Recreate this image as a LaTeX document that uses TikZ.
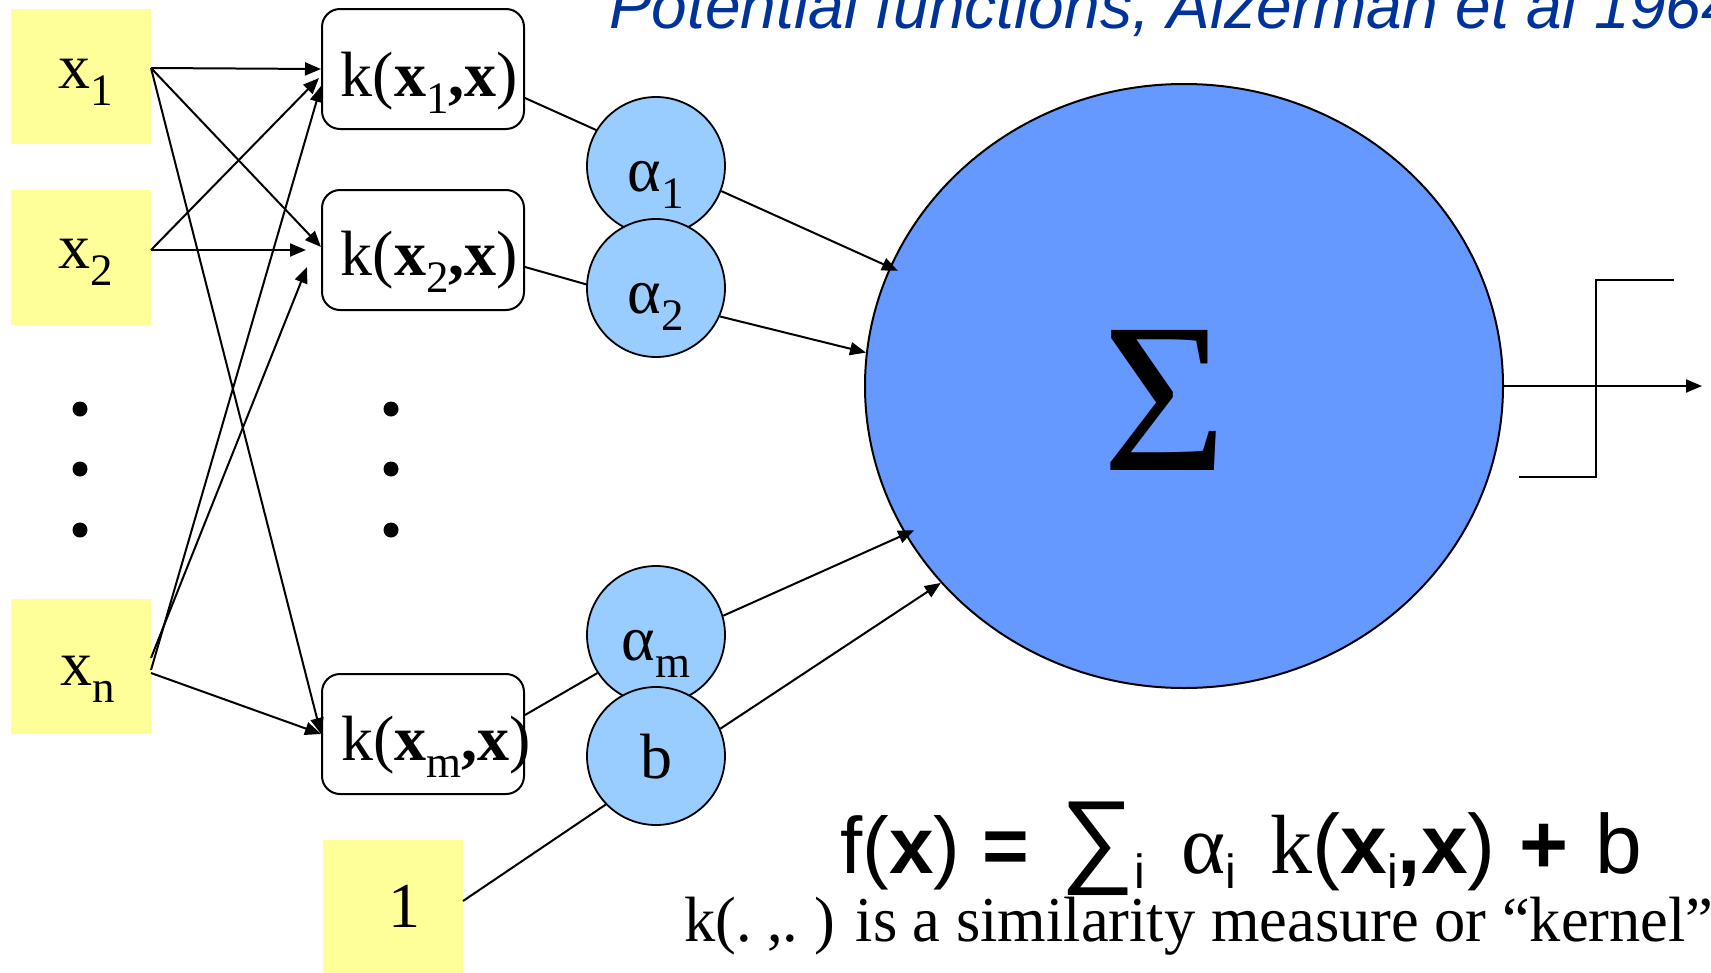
\documentclass[tikz,border=0pt]{standalone}
\usepackage{fontspec}
\usepackage{graphicx}
\setmainfont{Liberation Serif}
\newfontfamily\arial{Liberation Sans}
\usetikzlibrary{arrows.meta,calc,shapes.geometric}
\definecolor{ybox}{HTML}{FFFF99}
\definecolor{acirc}{HTML}{99CCFF}
\definecolor{sigc}{HTML}{6699FF}
\definecolor{titleblue}{HTML}{003399}
\newcommand\lbl[2]{\makebox[0pt]{\raisebox{-#1}[0pt][0pt]{#2}}}
\newcommand\mysub[1]{\raisebox{-17pt}{\fontsize{45}{45}\selectfont #1}}
\newcommand\fsub[1]{\raisebox{-15pt}{\fontsize{48}{48}\selectfont #1}}
\begin{document}
\begin{tikzpicture}[x=1pt,y=-1pt,
  inbox/.style={fill=ybox, minimum width=140pt, minimum height=135pt, inner sep=0pt, outer sep=0pt},
  kbox/.style={draw, line width=2pt, rounded corners=18pt, fill=white, minimum width=202pt, minimum height=120pt, inner sep=0pt},
  wcirc/.style={circle, draw, line width=1.8pt, fill=acirc, minimum size=138pt, inner sep=0pt},
  conn/.style={line width=2pt},
  arr/.style={conn, -{Triangle[length=16pt,width=13pt]}},
  dotn/.style={circle, fill=black, minimum size=15pt, inner sep=0pt},
  font=\fontsize{64}{64}\selectfont]
\useasboundingbox (0,0) rectangle (1711,972);

% inputs
\node[inbox] (x1) at (81,76.5) {\lbl{11.5pt}{\kern10pt x\mysub{1}}};
\node[inbox] (x2) at (81,257.5) {\lbl{10.5pt}{\kern10pt x\mysub{2}}};
\node[inbox] (xn) at (81,666) {\lbl{19pt}{\kern14pt x\mysub{n}}};
\node[inbox] (one) at (393,907.5) {\lbl{19.5pt}{\kern22pt 1}};

\node[dotn] (d1) at (80,409) {};
\node[dotn] (d2) at (80,469) {};
\node[dotn] (d3) at (80,530) {};
\node[dotn] (m1) at (391,409) {};
\node[dotn] (m2) at (391,469) {};
\node[dotn] (m3) at (391,530) {};

% kernels
\node[kbox] (k1) at (423,69) {\lbl{27pt}{\kern13pt k(\textbf{x}\mysub{1}\textbf{,x})}};
\node[kbox] (k2) at (423,250) {\lbl{25pt}{\kern13pt k(\textbf{x}\mysub{2}\textbf{,x})}};
\node[kbox] (km) at (423,734) {\lbl{26pt}{\kern26pt k(\textbf{x}\mysub{m}\textbf{,x})}};

% weights
\node[wcirc] (a1) at (656,166) {\lbl{25pt}{α\mysub{1}}};
\node[wcirc] (a2) at (656,288) {\lbl{25pt}{α\mysub{2}}};
\node[wcirc] (am) at (656,635) {\lbl{25pt}{α\mysub{m}}};
\node[wcirc] (b) at (656,756) {\lbl{22pt}{b}};

% summation
\node[ellipse, draw, line width=2pt, fill=sigc, minimum width=638pt, minimum height=604pt, inner sep=0pt] (sig) at (1184,386)
  {\lbl{84pt}{\fontsize{214}{214}\selectfont\kern-38pt Σ}};

% input connectors
\coordinate (x1o) at ([yshift=8.5pt]x1.east);
\coordinate (x2o) at ([yshift=7.5pt]x2.east);
\draw[arr] (x1o) -- (k1.west);
\draw[arr] (x1o) -- ([yshift=3pt]k2.west);
\draw[arr] (x1o) -- (km.west);
\draw[arr] (x2o) -- ([yshift=-9pt,xshift=-2pt]k1.west);
\draw[arr] (x2o) -- ([xshift=-15pt]k2.west);
\draw[arr] ([yshift=-4pt]xn.east) -- ([yshift=-17pt]k1.west);
\draw[arr] ([yshift=8pt]xn.east) -- ([xshift=-14pt,yshift=-17pt]k2.west);
\draw[arr] ([yshift=-7pt]xn.east) -- (km.west);

% kernel to weight
\draw[conn] ([yshift=-29pt]k1.east) -- (a1.149);
\draw[conn] ([yshift=-17pt]k2.east) -- (a2.177);
\draw[conn] ([yshift=19pt]km.east) -- (am.213);
\draw[conn] ([yshift=6.5pt]one.east) -- (b.224);

% weight to sum
\draw[arr, shorten >=-9pt] (a1.-21) -- (sig.158);
\draw[arr] (a2.-24) -- (sig.174);
\draw[arr, shorten >=-10pt] (am.16) -- (sig.208);
\draw[arr] (b.23) -- (sig.219);

% output
\coordinate (outend) at (1702,386);
\draw[arr] (sig.east) -- (outend);
\draw[line width=2.2pt] (1519,477) -- (1596,477) -- (1596,280) -- (1674,280);

% texts
\node[anchor=base west, inner sep=0pt, text=titleblue, font=\arial\itshape\fontsize{64}{64}\selectfont] (title) at (609,28)
  {Potential functions, Aizerman et al 1964};
\node[anchor=base west, inner sep=0pt, font=\arial\fontsize{80}{80}\selectfont] (fx) at (840,873)
  {f(\textbf{x}) \textbf{=}\kern9pt\ \scalebox{1.3}{∑}\fsub{i}\kern14pt\ {\fontsize{84}{84}\selectfont{\rmfamily α}\fsub{i}\kern11pt\ {\rmfamily k}(\textbf{x}\fsub{i}\textbf{,x}) \textbf{+}\kern4pt\ b}};
\node[anchor=base west, inner sep=0pt] (cap) at (684,941)
  {\scalebox{0.975}[1]{k(.\kern16pt,.\kern16pt) is a similarity measure or “kernel”}};
\end{tikzpicture}
\end{document}
